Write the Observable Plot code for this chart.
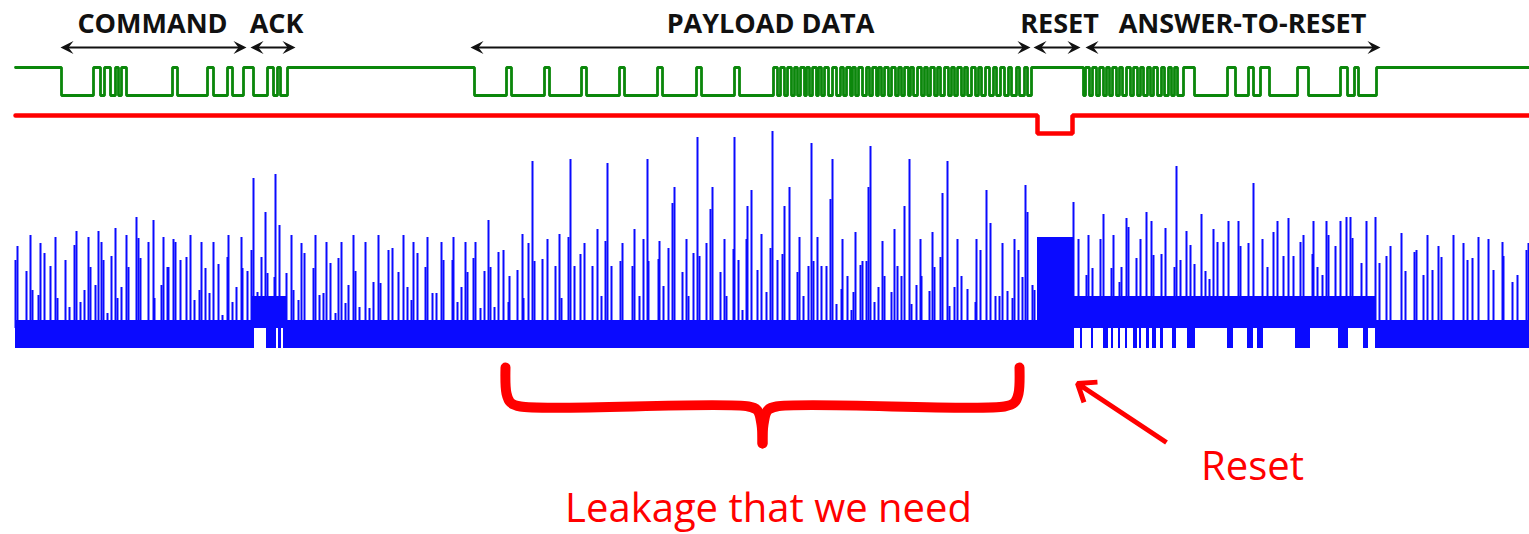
<!DOCTYPE html>
<html>
<head>
<meta charset="utf-8">
<script src="https://cdn.jsdelivr.net/npm/d3@7"></script>
<script src="https://cdn.jsdelivr.net/npm/@observablehq/plot@0.6"></script>
<style>
  html, body { margin: 0; padding: 0; background: #ffffff; }
  #chart svg { display: block; }
</style>
</head>
<body>
<div id="chart"></div>
<script>
// ---------- DATA ----------
// Protocol phases (time spans) and their labels
const phaseLabels = ["COMMAND", "ACK", "PAYLOAD DATA", "RESET", "ANSWER-TO-RESET"];
const phaseStart  = [60, 250, 470, 1033, 1085];
const phaseEnd    = [246, 295, 1030, 1080, 1380];
const phaseLabelX = [152, 276, 770, 1059, 1242];

// Signal levels
const GREEN_HIGH = 67, GREEN_LOW = 95;
const RED_LEVEL = 115, RED_RESET = 133;
const BLUE_TOP = 320, BLUE_MID = 328, BLUE_BOTTOM = 348;
const BLUE_RAISED = 296, BLUE_RESET_TOP = 237;
const T_START = 15, T_END = 1529;

// I/O line (green): times where the level toggles, starting high
const greenToggles = [
  61, 93, 100, 104, 110, 115, 118, 121, 126, 172, 177, 207, 213, 227, 232,
  243, 253, 267, 273, 277, 280, 287,
  474, 506, 511, 544, 549, 581, 586, 619, 624, 657, 662, 696, 701, 734, 739,
  773, 777, 780, 784, 787, 791, 794, 797, 800, 804, 806, 809, 812, 816, 818, 821,
  824, 828, 832, 836, 840, 843, 846, 850, 852, 855, 858, 862, 866, 869, 872, 876,
  878, 881, 884, 888, 891, 895, 898, 901, 904, 908, 910, 913, 917, 921, 924, 927,
  930, 934, 937, 940, 944, 948, 951, 954, 957, 961, 964, 967, 971, 975, 978, 981,
  985, 989, 993, 996, 1000, 1004, 1008, 1011, 1016, 1019, 1024, 1027,
  1031, 1083,
  1085, 1089, 1092, 1096, 1099, 1103, 1106, 1109, 1112, 1116, 1119, 1122, 1126, 1130,
  1133, 1137, 1140, 1143, 1147, 1150, 1153, 1157, 1161, 1164, 1168, 1171, 1174, 1177,
  1183, 1194, 1227, 1235, 1248, 1253, 1260, 1269, 1297, 1308, 1340, 1347, 1354, 1358,
  1376
];

// Reset line (red): times where it toggles (normal -> reset -> normal)
const redToggles = [1037, 1072];

// Power trace (blue): spikes [time, peak level]
const spikes = [
[15,260],[17,246],[26,271],[30,235],[32,290],[38,295],[40,243],[44,253],[50,266],[55,237],[57,298],[65,260],[69,307],[74,245],[76,231],[80,302],[84,290],[88,237],[90,267],[95,285],[98,231],[101,242],[103,260],[107,313],[111,256],[115,228],[117,298],[121,287],[126,235],[128,267],[136,217],[138,238],[140,258],[148,242],[153,220],[154,298],[161,285],[163,237],[167,267],[168,267],[173,239],[175,242],[180,260],[186,257],[190,235],[194,300],[199,290],[201,242],[205,268],[209,293],[213,242],[218,264],[222,315],[227,257],[228,235],[232,302],[236,287],[241,237],[242,268],[247,271],[251,250],[253,178],[257,292],[261,257],[265,212],[267,273],[274,277],[275,174],[279,225],[286,273],[291,235],[293,290],[298,300],[301,243],[304,253],[313,268],[315,235],[319,295],[323,293],[326,242],[330,263],[335,313],[338,258],[341,242],[345,303],[348,285],[353,235],[355,271],[359,307],[365,242],[369,308],[373,282],[378,235],[380,283],[388,250],[392,248],[398,272],[403,235],[407,287],[411,300],[413,242],[417,253],[425,267],[427,237],[432,293],[436,293],[441,242],[443,260],[452,260],[453,237],[457,302],[461,287],[465,242],[467,272],[473,258],[475,242],[480,308],[484,271],[488,220],[490,267],[494,307],[498,252],
[503,250],[508,302],[509,276],[517,270],[522,234],[523,298],[528,243],[532,161],[534,261],[542,259],[547,239],[555,266],[559,234],[561,298],[568,237],[570,159],[574,266],[580,254],[584,243],[592,266],[597,229],[601,296],[605,241],[607,163],[611,266],[620,261],[622,243],[632,266],[634,229],[639,296],[643,239],[647,159],[648,261],[658,259],[659,241],[663,286],[668,248],[672,203],[674,187],[682,272],[686,239],[688,296],[693,253],[697,137],[699,256],[706,243],[710,209],[712,187],[720,272],[724,239],[726,296],[733,249],[734,137],[738,260],[742,310],[746,239],[747,206],[751,190],[757,270],[761,234],[766,292],[770,248],[772,131],[777,260],[782,254],[784,206],[789,187],[797,272],[799,237],[803,296],[808,266],[811,143],[813,261],[817,237],[821,266],[826,266],[830,199],[832,159],[836,304],[841,289],[842,239],[847,276],[851,310],[853,292],[855,232],[860,265],[862,261],[866,261],[868,187],[870,146],[874,302],[878,287],[882,241],[884,276],[891,292],[894,229],[897,266],[901,276],[904,206],[909,159],[911,304],[916,285],[920,239],[921,276],[929,291],[932,232],[934,267],[940,257],[942,193],[947,161],[949,306],[954,287],[957,239],[961,276],[967,289],[975,302],[976,239],[980,250],[986,190],[990,223],[995,296],[999,296],[1002,243],[1007,291],[1012,298],[1014,239],[1018,250],
[1022,277],[1025,185],[1027,212],[1032,285],[1034,290],[1073,202],[1078,239],[1086,275],[1088,235],[1092,268],[1100,239],[1103,214],[1111,268],[1113,235],[1119,282],[1121,267],[1126,218],[1128,227],[1136,258],[1140,239],[1146,212],[1151,221],[1153,255],[1161,254],[1165,228],[1174,267],[1176,166],[1180,260],[1186,231],[1190,245],[1194,264],[1201,214],[1205,271],[1209,279],[1213,229],[1217,242],[1223,242],[1228,221],[1238,221],[1240,246],[1248,243],[1253,183],[1262,239],[1267,267],[1273,232],[1277,221],[1283,256],[1288,218],[1293,256],[1300,242],[1303,235],[1312,254],[1313,221],[1317,267],[1322,275],[1326,221],[1328,235],[1335,246],[1340,221],[1346,217],[1350,217],[1352,238],[1361,263],[1366,221],[1375,217],[1379,263],[1386,256],[1390,246],[1401,233],[1405,271],[1414,252],[1416,250],[1423,275],[1427,235],[1432,270],[1438,246],[1441,257],[1453,235],[1463,243],[1467,260],[1472,258],[1478,237],[1488,239],[1493,270],[1502,242],[1503,256],[1512,282],[1517,275],[1526,250],[1528,243]
];

// Power trace baseline: full-depth segments, raised activity spans, reset block, lower bars during ATR
const baseSegments = [[15,254],[266,276],[278,281],[283,1074],[1375,1529]];
const raisedSpans  = [[251,287],[1074,1375]];
const resetBlock   = [[1037,1074]];
const atrBars = [[1080,1082],[1091,1093],[1103,1108],[1111,1113],[1118,1120],[1125,1127],[1133,1137],[1139,1141],[1146,1149],[1152,1156],[1160,1163],[1172,1176],[1187,1195],[1227,1233],[1247,1253],[1257,1263],[1295,1310],[1338,1348],[1363,1368]];

// Annotations
const PHASE_ARROW_Y = 47, PHASE_LABEL_Y = 24;
const bracketLeft  = [[505,367],[506,393],[510,402],[520,406],[748,406],[757,410],[761,424],[762,443]];
const bracketRight = [[1019,367],[1018,393],[1014,402],[1004,406],[776,406],[767,410],[763,424],[762,443]];
const resetArrow = {x1: 1166, y1: 442, x2: 1077, y2: 383};
const notes = [
  {text: "Leakage that we need", x: 768, y: 509},
  {text: "Reset", x: 1252, y: 467}
];

// ---------- BUILD ----------
const BLUE = "#0a0aff", GREEN = "#0b870b", RED = "#ff0000";

const greenPts = [];
let lvl = 1;
greenPts.push({t: T_START, v: GREEN_HIGH});
for (const t of greenToggles) {
  greenPts.push({t, v: lvl ? GREEN_HIGH : GREEN_LOW});
  lvl = 1 - lvl;
  greenPts.push({t, v: lvl ? GREEN_HIGH : GREEN_LOW});
}
greenPts.push({t: T_END, v: lvl ? GREEN_HIGH : GREEN_LOW});

const redPts = [];
let rl = 0;
redPts.push({t: T_START, v: RED_LEVEL});
for (const t of redToggles) {
  redPts.push({t, v: rl ? RED_RESET : RED_LEVEL});
  rl = 1 - rl;
  redPts.push({t, v: rl ? RED_RESET : RED_LEVEL});
}
redPts.push({t: T_END, v: RED_LEVEL});

const blueRects = [
  ...baseSegments.map(([a, b]) => ({a, b, top: BLUE_TOP, bot: BLUE_BOTTOM})),
  ...raisedSpans.map(([a, b]) => ({a, b, top: BLUE_RAISED, bot: BLUE_MID})),
  ...resetBlock.map(([a, b]) => ({a, b, top: BLUE_RESET_TOP, bot: BLUE_BOTTOM})),
  ...atrBars.map(([a, b]) => ({a, b, top: BLUE_MID, bot: BLUE_BOTTOM}))
];

const phases = phaseLabels.map((label, i) => ({
  label, s: phaseStart[i], e: phaseEnd[i], lx: phaseLabelX[i]
}));
const heads = phases.flatMap(p => [
  {x: p.s, dir: 180}, {x: p.e, dir: 0}
]);

const stealth = {
  draw(ctx) {
    ctx.moveTo(0, 0);
    ctx.lineTo(-13, -6.5);
    ctx.lineTo(-8, 0);
    ctx.lineTo(-13, 6.5);
    ctx.closePath();
  }
};

const chart = Plot.plot({
  width: 1529,
  height: 534,
  margin: 0,
  x: {domain: [0, 1529], range: [0, 1529], axis: null},
  y: {domain: [0, 534], range: [0, 534], axis: null},
  style: {background: "#ffffff", overflow: "visible"},
  marks: [
    // blue power trace
    Plot.rect(blueRects, {x1: "a", x2: "b", y1: "top", y2: "bot", fill: BLUE}),
    Plot.ruleX(spikes, {x: d => d[0], y1: d => d[1], y2: BLUE_MID, stroke: BLUE, strokeWidth: 2}),
    // green I/O line
    Plot.line(greenPts, {x: "t", y: "v", stroke: GREEN, strokeWidth: 2.8, strokeLinejoin: "miter"}),
    // red reset line
    Plot.line(redPts, {x: "t", y: "v", stroke: RED, strokeWidth: 4.5, strokeLinejoin: "miter"}),
    // phase arrows
    Plot.link(phases, {x1: d => d.s + 6, x2: d => d.e - 6, y1: PHASE_ARROW_Y, y2: PHASE_ARROW_Y, stroke: "#111", strokeWidth: 2}),
    Plot.dot(heads, {x: "x", y: PHASE_ARROW_Y, symbol: stealth, rotate: "dir", fill: "#111", stroke: "none"}),
    Plot.text(phases, {x: "lx", y: PHASE_LABEL_Y, text: "label", fontFamily: "'Open Sans', sans-serif", fontWeight: "bold", fontSize: 27, fill: "#111"}),
    // red bracket
    Plot.line(bracketLeft, {x: d => d[0], y: d => d[1], curve: "catmull-rom", stroke: RED, strokeWidth: 10, strokeLinecap: "round", strokeLinejoin: "round"}),
    Plot.line(bracketRight, {x: d => d[0], y: d => d[1], curve: "catmull-rom", stroke: RED, strokeWidth: 10, strokeLinecap: "round", strokeLinejoin: "round"}),
    // reset arrow
    Plot.arrow([resetArrow], {x1: "x1", y1: "y1", x2: "x2", y2: "y2", stroke: RED, strokeWidth: 5, headLength: 6, headAngle: 75, strokeLinecap: "butt", strokeLinejoin: "miter"}),
    // notes
    Plot.text(notes, {x: "x", y: "y", text: "text", fontFamily: "'Open Sans', sans-serif", fontSize: 40, fill: RED})
  ]
});

document.getElementById("chart").appendChild(chart);
</script>
</body>
</html>
